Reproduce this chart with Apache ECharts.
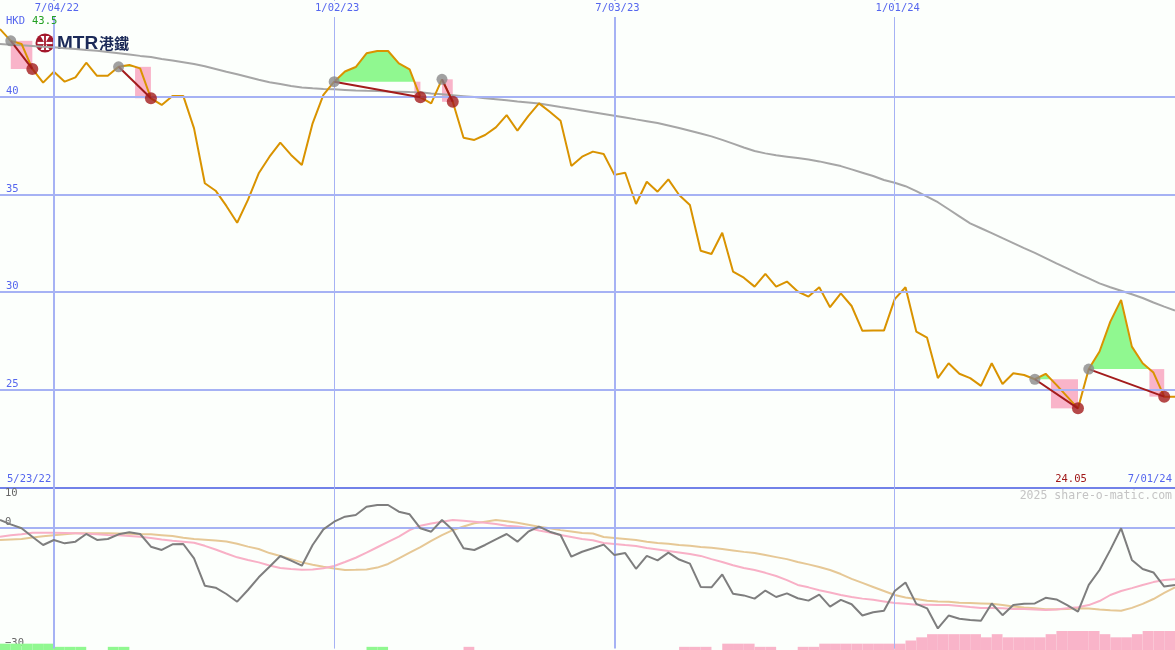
<!DOCTYPE html>
<html><head><meta charset="utf-8">
<script src="https://cdn.jsdelivr.net/npm/echarts@6/dist/echarts.min.js"></script>
<style>html,body{margin:0;padding:0;background:#fcfffc;}#c{width:1175px;height:650px;}</style>
</head><body><div id="c"></div>
<script>
// ---------- data (weekly, first week 30 May 2022) ----------
const firstWeek = [2022, 4, 30];
const price = [43.46,42.86,42.70,41.42,40.72,41.28,40.77,40.99,41.74,41.07,
 41.07,41.53,41.62,41.45,39.92,39.58,40.04,40.04,38.38,35.57,
 35.19,34.41,33.55,34.72,36.08,36.93,37.65,37.02,36.51,38.64,
 40.09,40.77,41.29,41.52,42.22,42.34,42.34,41.71,41.40,39.97,
 39.66,40.89,39.74,37.90,37.79,38.04,38.43,39.06,38.26,39.01,
 39.66,39.23,38.77,36.46,36.93,37.19,37.07,36.00,36.11,34.51,
 35.65,35.14,35.77,34.97,34.46,32.12,31.95,33.04,31.05,30.74,
 30.28,30.93,30.28,30.54,30.03,29.77,30.25,29.23,29.94,29.29,
 28.02,28.03,28.03,29.64,30.25,27.98,27.67,25.60,26.36,25.82,
 25.60,25.20,26.36,25.30,25.85,25.76,25.54,25.82,25.25,24.65,
 24.05,26.06,26.96,28.49,29.60,27.21,26.36,25.88,24.65,24.65];
const priceAvg = [42.70,42.66,42.63,42.60,42.56,42.53,42.48,42.44,42.39,42.35,
 42.29,42.23,42.16,42.09,42.03,41.93,41.85,41.76,41.67,41.56,
 41.42,41.28,41.15,41.01,40.87,40.74,40.65,40.55,40.47,40.43,
 40.40,40.38,40.35,40.32,40.30,40.29,40.27,40.26,40.24,40.23,
 40.17,40.13,40.08,40.03,39.98,39.92,39.87,39.82,39.76,39.71,
 39.65,39.56,39.47,39.39,39.30,39.21,39.12,39.03,38.94,38.84,
 38.75,38.65,38.53,38.40,38.26,38.12,37.97,37.79,37.60,37.40,
 37.22,37.10,37.00,36.93,36.86,36.79,36.69,36.57,36.45,36.28,
 36.11,35.94,35.74,35.60,35.42,35.17,34.89,34.60,34.24,33.88,
 33.52,33.27,33.02,32.76,32.51,32.25,32.01,31.74,31.47,31.21,
 30.95,30.70,30.45,30.25,30.07,29.89,29.70,29.47,29.26,29.06];
const osc = [1.91,0.84,-0.15,-2.23,-4.29,-3.05,-3.88,-3.47,-1.56,-3.05,
 -2.80,-1.65,-1.15,-1.56,-4.71,-5.53,-4.12,-4.04,-7.6,-14.39,
 -14.89,-16.45,-18.36,-15.46,-12.31,-9.68,-7.02,-8.19,-9.43,-4.29,
 -0.4,1.49,2.73,3.15,5.21,5.63,5.63,3.97,3.32,-0.15,
 -0.99,1.91,-0.57,-5.11,-5.53,-4.29,-2.88,-1.56,-3.47,-0.99,
 0.25,-0.99,-1.81,-7.2,-5.96,-5.11,-4.2,-6.8,-6.3,-10.2,
 -7.0,-8.1,-6.2,-7.9,-8.9,-14.7,-14.8,-11.6,-16.4,-16.8,
 -17.6,-15.6,-17.2,-16.3,-17.5,-18.1,-16.6,-19.6,-17.9,-19.0,
 -21.8,-21.0,-20.6,-15.7,-13.6,-18.9,-20.0,-25.0,-21.8,-22.6,
 -22.9,-23.1,-18.8,-21.7,-19.2,-18.9,-18.8,-17.4,-17.8,-19.2,
 -20.8,-14.2,-10.5,-5.5,-0.15,-8.0,-10.25,-11.1,-14.6,-14.2];
const oscFast = [-2.22,-1.9,-1.65,-1.25,-1.23,-1.23,-1.3,-1.4,-1.5,-1.65,
 -1.8,-1.9,-2.05,-2.25,-2.55,-2.95,-3.25,-3.5,-3.75,-4.5,
 -5.4,-6.4,-7.35,-8.0,-8.6,-9.4,-10.0,-10.25,-10.45,-10.35,
 -10.05,-9.5,-8.5,-7.45,-6.2,-4.85,-3.5,-2.2,-0.6,0.5,
 1.05,1.5,1.9,1.7,1.5,1.2,0.9,0.5,0.3,-0.1,
 -0.7,-1.2,-1.8,-2.3,-2.8,-3.1,-3.8,-4.04,-4.3,-4.54,
 -5.04,-5.4,-5.8,-6.15,-6.5,-7.0,-7.8,-8.5,-9.3,-10.0,
 -10.5,-11.2,-12.0,-13.0,-14.2,-14.8,-15.5,-16.1,-16.7,-17.2,
 -17.6,-17.9,-18.3,-18.7,-18.9,-19.1,-19.1,-19.2,-19.2,-19.4,
 -19.7,-19.9,-19.9,-20.0,-20.2,-20.2,-20.3,-20.4,-20.3,-20.0,
 -19.75,-19.2,-18.2,-16.7,-15.7,-15.0,-14.2,-13.5,-13.0,-12.8];
const oscSlow = [-3.06,-2.93,-2.8,-2.45,-2.1,-1.85,-1.6,-1.4,-1.4,-1.4,
 -1.4,-1.45,-1.5,-1.6,-1.65,-1.85,-2.05,-2.5,-2.8,-3.0,
 -3.2,-3.4,-4.0,-4.7,-5.3,-6.3,-7.0,-7.8,-8.6,-9.2,
 -9.7,-10.1,-10.5,-10.45,-10.35,-9.9,-9.0,-7.6,-6.2,-4.8,
 -3.25,-1.85,-0.6,0.3,1.1,1.5,1.9,1.6,1.25,0.75,
 0.25,-0.15,-0.6,-0.95,-1.3,-1.45,-2.3,-2.56,-2.8,-3.05,
 -3.5,-3.8,-4.0,-4.3,-4.5,-4.8,-5.0,-5.3,-5.65,-6.0,
 -6.3,-6.8,-7.3,-7.8,-8.5,-9.1,-9.75,-10.5,-11.5,-12.7,
 -13.7,-14.7,-15.7,-16.7,-17.3,-17.7,-18.1,-18.3,-18.4,-18.6,
 -18.7,-18.8,-18.9,-19.2,-19.55,-19.8,-20.0,-20.25,-20.25,-20.2,
 -20.0,-20.05,-20.3,-20.5,-20.6,-19.9,-18.9,-17.7,-16.2,-14.8];
// weekly strength blocks: + green, - pink
const strength = [2,2,2,2,2,1,1,1,0,0,
 1,1,0,0,0,0,0,0,0,0,
 0,0,0,0,0,0,0,0,0,0,
 0,0,0,0,1,1,0,0,0,0,
 0,0,0,-1,0,0,0,0,0,0,
 0,0,0,0,0,0,0,0,0,0,
 0,0,0,-1,-1,-1,0,-2,-2,-2,
 -1,-1,0,0,-1,-1,-2,-2,-2,-2,
 -2,-2,-2,-2,-3,-4,-5,-5,-5,-5,
 -5,-4,-5,-4,-4,-4,-4,-5,-6,-6,
 -6,-6,-5,-4,-4,-5,-6,-6,-6,0];
const peakIdx = [1, 11, 31, 41, 96, 101];
const troughIdx = [3, 14, 39, 42, 100, 108];
const priceTicks = [25, 30, 35, 40];
const oscTicks = [10, 0, -30];
const dateTicks = ['2022-07-04', '2023-01-02', '2023-07-03', '2024-01-01'];
const dateTickLabels = ['7/04/22', '1/02/23', '7/03/23', '1/01/24'];
const dateTickMajor = [true, false, true, false];
const currency = 'HKD', highText = '43.5', lowText = '24.05';
const rangeStartText = '5/23/22', rangeEndText = '7/01/24';
const credit = '2025 share-o-matic.com';

// ---------- styling ----------
const BG = '#fcfffc', GRID = '#a6b2f4', BORDER = '#7282e8', BLUE = '#5566ee';
const GREEN = '#90f890', PINK = '#f9b4c9', RED = '#a31c1c';
const FONT = '"Liberation Sans", Arial, sans-serif';
const MONO = '"DejaVu Sans Mono", monospace';
const SMALL = '10.5px ' + MONO;
const DAY = 86400000;
const t0 = Date.UTC(firstWeek[0], firstWeek[1], firstWeek[2]);
const dates = price.map((_, i) => t0 + i * 7 * DAY);
const pairs = arr => arr.map((v, i) => [dates[i], v]);
const ts = s => Date.parse(s + 'T00:00:00Z');

function fillItem(params, api) {
  const k = params.dataIndex, g = peakIdx[k], r = troughIdx[k];
  const level = price[g];
  const poly = [[dates[g], level]];
  let i = g;
  while (i < r && price[i + 1] >= level) { i++; poly.push([dates[i], price[i]]); }
  let crossT = dates[g];
  const children = [];
  if (i > g && i < r) {
    const f = (price[i] - level) / (price[i] - price[i + 1]);
    crossT = dates[i] + f * (dates[i + 1] - dates[i]);
    poly.push([crossT, level]);
    children.push({type: 'polygon', shape: {points: poly.map(p => api.coord(p))}, style: {fill: GREEN}});
  }
  const a = api.coord([crossT, level]);
  const b = api.coord([dates[r], price[r]]);
  children.push({type: 'rect', shape: {x: a[0], y: a[1], width: b[0] - a[0], height: b[1] - a[1]}, style: {fill: PINK}});
  return {type: 'group', children};
}
function signalItem(params, api) {
  const a = api.coord([api.value(0), api.value(1)]);
  const b = api.coord([api.value(2), api.value(3)]);
  return {type: 'line', shape: {x1: a[0], y1: a[1], x2: b[0], y2: b[1]}, style: {stroke: RED, lineWidth: 2}};
}
function barItem(params, api) {
  const t = api.value(0), L = api.value(1);
  const a = api.coord([t, 0]);
  const b = api.coord([t + 7 * DAY, Math.abs(L)]);
  return {type: 'rect', shape: {x: a[0], y: b[1], width: b[0] - a[0], height: a[1] - b[1]}, style: {fill: L > 0 ? GREEN : PINK}};
}

const signalData = peakIdx.map((g, k) => [dates[g], price[g], dates[troughIdx[k]], price[troughIdx[k]]]);
const vLines = dateTicks.map((d, k) => ({xAxis: ts(d), lineStyle: {width: dateTickMajor[k] ? 2 : 1}}));
const xRange = {min: dates[0], max: dates[dates.length - 1]};
const hidden = {axisLine: {show: false}, axisTick: {show: false}, axisLabel: {show: false}, splitLine: {show: false}};
const ml = data => ({silent: true, symbol: 'none', label: {show: false}, animation: false,
  lineStyle: {color: GRID, width: 2, type: 'solid'}, emphasis: {disabled: true}, data});
const fmtNum = v => (v < 0 ? '\u2212' + Math.abs(v) : String(v));

const option = {
  backgroundColor: BG,
  animation: false,
  grid: [
    {left: 0, right: 0, top: 0, height: 487.5},
    {left: 0, right: 0, top: 487.4, height: 161.2},
    {left: 0, right: 0, top: 487.5, height: 162.5}
  ],
  xAxis: [
    Object.assign({type: 'time', gridIndex: 0}, xRange, hidden, {axisLine: {show: true, lineStyle: {color: BORDER, width: 2}}}),
    Object.assign({type: 'time', gridIndex: 1}, xRange, hidden),
    Object.assign({type: 'time', gridIndex: 2}, xRange, hidden)
  ],
  yAxis: [
    {type: 'value', gridIndex: 0, min: 20, max: 44.95, interval: 5,
     axisLine: {show: false}, axisTick: {show: false}, splitLine: {show: false},
     axisLabel: {inside: true, margin: 6, verticalAlign: 'bottom', color: BLUE, fontSize: 10.5, fontFamily: MONO,
       formatter: v => (priceTicks.includes(v) ? String(v) : '')}},
    {type: 'value', gridIndex: 1, position: 'left', min: -30, max: 10, interval: 10,
     axisLine: {show: false}, axisTick: {show: false}, splitLine: {show: false},
     axisLabel: {inside: true, margin: 5, verticalAlign: 'bottom', color: '#666', fontSize: 10.5, fontFamily: MONO,
       formatter: v => (oscTicks.includes(v) && v < 10 ? fmtNum(v) : '')}},
    {type: 'value', gridIndex: 1, position: 'left', min: -30, max: 10, interval: 10,
     axisLine: {show: false}, axisTick: {show: false}, splitLine: {show: false},
     axisLabel: {inside: true, margin: 5, verticalAlign: 'top', color: '#666', fontSize: 10.5, fontFamily: MONO,
       formatter: v => (v === 10 && oscTicks.includes(v) ? fmtNum(v) : '')}},
    Object.assign({type: 'value', gridIndex: 2, min: 0, max: 51.3}, hidden)
  ],
  series: [
    {type: 'line', xAxisIndex: 0, yAxisIndex: 0, z: 1, data: [[dates[0], price[0]]], symbol: 'none',
     lineStyle: {opacity: 0}, silent: true,
     markLine: ml(priceTicks.map(v => ({yAxis: v})).concat(vLines))},
    {type: 'custom', xAxisIndex: 0, yAxisIndex: 0, z: 2, renderItem: fillItem, data: signalData,
     encode: {x: [0, 2], y: [1, 3]}, silent: true},
    {type: 'line', xAxisIndex: 0, yAxisIndex: 0, z: 3, data: pairs(priceAvg), symbol: 'none',
     lineStyle: {color: '#a6a6a6', width: 2}, silent: true},
    {type: 'line', xAxisIndex: 0, yAxisIndex: 0, z: 4, data: pairs(price), symbol: 'none',
     lineStyle: {color: '#d99300', width: 2}, silent: true},
    {type: 'custom', xAxisIndex: 0, yAxisIndex: 0, z: 5, renderItem: signalItem, data: signalData,
     encode: {x: [0, 2], y: [1, 3]}, silent: true},
    {type: 'scatter', xAxisIndex: 0, yAxisIndex: 0, z: 6, data: peakIdx.map(i => [dates[i], price[i]]),
     symbolSize: 11, itemStyle: {color: '#8a8a8a'}, silent: true},
    {type: 'scatter', xAxisIndex: 0, yAxisIndex: 0, z: 6, data: troughIdx.map(i => [dates[i], price[i]]),
     symbolSize: 12, itemStyle: {color: RED}, silent: true},
    // lower panel
    {type: 'custom', xAxisIndex: 2, yAxisIndex: 3, z: 1, renderItem: barItem,
     data: strength.map((L, i) => [dates[i], L]).filter(d => d[1] !== 0), silent: true},
    {type: 'line', xAxisIndex: 1, yAxisIndex: 1, z: 1, data: [[dates[0], 0]], symbol: 'none',
     lineStyle: {opacity: 0}, silent: true,
     markLine: ml([{yAxis: 0}].concat(vLines))},
    {type: 'line', xAxisIndex: 1, yAxisIndex: 1, z: 3, data: pairs(oscSlow), symbol: 'none',
     lineStyle: {color: '#e6c896', width: 2}, silent: true},
    {type: 'line', xAxisIndex: 1, yAxisIndex: 1, z: 4, data: pairs(oscFast), symbol: 'none',
     lineStyle: {color: '#f8b0c6', width: 2}, silent: true},
    {type: 'line', xAxisIndex: 1, yAxisIndex: 1, z: 5, data: pairs(osc), symbol: 'none',
     lineStyle: {color: '#7e7e7e', width: 2}, silent: true}
  ]
};

const chart = echarts.init(document.getElementById('c'), null, {renderer: 'canvas'});
chart.setOption(option);

const gfx = [];
dateTicks.forEach((d, k) => {
  const x = chart.convertToPixel({xAxisIndex: 0}, ts(d));
  gfx.push({type: 'text', x: x + 3, y: 1, z: 100,
    style: {text: dateTickLabels[k], font: SMALL, fill: BLUE, align: 'center', verticalAlign: 'top',
      backgroundColor: BG, padding: [2, 3, 3, 3]}});
});
gfx.push({type: 'text', x: 6, y: 21, z: 100, style: {text: currency, font: SMALL, fill: BLUE, verticalAlign: 'middle'}});
gfx.push({type: 'text', x: 32, y: 21, z: 100, style: {text: highText, font: SMALL, fill: '#22a022', verticalAlign: 'middle'}});
gfx.push({type: 'text', x: 7, y: 479, z: 100, style: {text: rangeStartText, font: SMALL, fill: BLUE, verticalAlign: 'middle'}});
gfx.push({type: 'text', x: 1172, y: 479, z: 100, style: {text: rangeEndText, font: SMALL, fill: BLUE, align: 'right', verticalAlign: 'middle'}});
const lowX = chart.convertToPixel({xAxisIndex: 0}, dates[troughIdx[troughIdx.length - 2]]);
gfx.push({type: 'text', x: lowX - 7, y: 479, z: 100, style: {text: lowText, font: SMALL, fill: '#a01818', align: 'center', verticalAlign: 'middle'}});
gfx.push({type: 'text', x: 1172, y: 496, z: 100, style: {text: credit, font: '11.5px ' + MONO, fill: '#c4c4c4', align: 'right', verticalAlign: 'middle'}});
// MTR logo
gfx.push({type: 'group', x: 36, y: 33, z: 100, children: [
  {type: 'circle', shape: {cx: 9, cy: 10, r: 9.5}, style: {fill: '#a3182c'}},
  {type: 'rect', shape: {x: 1.5, y: 8.9, width: 15, height: 2.2}, style: {fill: '#fff'}},
  {type: 'polygon', shape: {points: [[4.5, 3], [13.5, 3], [10, 8.9], [8, 8.9]]}, style: {fill: '#fff'}},
  {type: 'polygon', shape: {points: [[8, 11.1], [10, 11.1], [13.5, 17], [4.5, 17]]}, style: {fill: '#fff'}},
  {type: 'rect', shape: {x: 8.1, y: 1, width: 1.8, height: 18}, style: {fill: '#a3182c'}},
  {type: 'text', x: 21, y: 10.5, style: {text: 'MTR', font: 'bold 19px ' + FONT, fill: '#1b2a58', verticalAlign: 'middle'}},
  {type: 'text', x: 63, y: 10.5, style: {text: '港鐵', font: 'bold 15px "Noto Sans CJK TC"', fill: '#1b2a58', verticalAlign: 'middle'}}
]});
chart.setOption({graphic: gfx});
</script>
</body></html>
